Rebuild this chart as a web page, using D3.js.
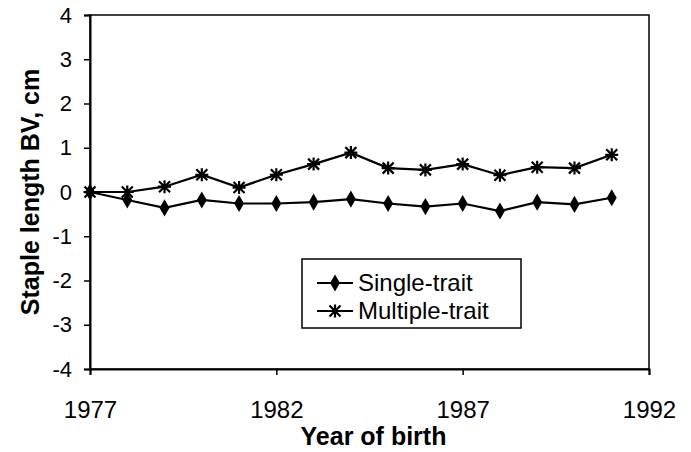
<!DOCTYPE html>
<html><head><meta charset="utf-8">
<script src="https://cdn.jsdelivr.net/npm/d3@7"></script>
<style>body{margin:0;background:#fff}svg{display:block}text{font-family:"Liberation Sans",Arial,sans-serif;fill:#000}</style>
</head><body>
<script>
const years = [1977,1978,1979,1980,1981,1982,1983,1984,1985,1986,1987,1988,1989,1990,1991];
const singleTrait = [0,-0.18,-0.36,-0.18,-0.26,-0.26,-0.23,-0.16,-0.26,-0.33,-0.26,-0.43,-0.23,-0.28,-0.13];
const multipleTrait = [0,0.0,0.12,0.39,0.10,0.39,0.63,0.89,0.54,0.50,0.63,0.38,0.56,0.54,0.84];
const xTicks = [1977,1982,1987,1992];
const yTicks = [-4,-3,-2,-1,0,1,2,3,4];
const seriesNames = ["Single-trait","Multiple-trait"];

const W=691,H=452;
const svg=d3.select("body").append("svg").attr("width",W).attr("height",H);
const m={l:90,r:649,t:15,b:369};
const x=d3.scaleLinear().domain([1977,1992]).range([m.l,m.r]);
const y=d3.scaleLinear().domain([-4,4]).range([m.b,m.t]);

svg.append("rect").attr("x",m.l).attr("y",m.t).attr("width",m.r-m.l).attr("height",m.b-m.t)
  .attr("fill","none").attr("stroke","#000").attr("stroke-width",1.5);

const xa=svg.append("g").attr("transform",`translate(0,${m.b})`)
  .call(d3.axisBottom(x).tickValues(xTicks).tickFormat(d=>String(d)).tickSize(6).tickPadding(26));
const ya=svg.append("g").attr("transform",`translate(${m.l},0)`)
  .call(d3.axisLeft(y).tickValues(yTicks).tickFormat(d=>String(d)).tickSize(6).tickPadding(12));
[xa,ya].forEach(a=>{a.select(".domain").attr("stroke","#000").attr("stroke-width",2);
  a.selectAll(".tick line").attr("stroke","#000").attr("stroke-width",1.5);
  a.selectAll("text").style("font-family",'"Liberation Sans",Arial,sans-serif').attr("fill","#000");});
xa.selectAll("text").style("font-size","24px");
ya.selectAll("text").style("font-size","22px");

svg.append("text").attr("x",(m.l+m.r)/2+4).attr("y",445).attr("text-anchor","middle")
  .style("font-size","25px").style("font-weight","bold").text("Year of birth");
svg.append("text").attr("transform",`translate(39,${(m.t+m.b)/2}) rotate(-90)`).attr("text-anchor","middle")
  .style("font-size","25px").style("font-weight","bold").text("Staple length BV, cm");

const line=d3.line().x((d,i)=>x(years[i])).y(d=>y(d));
const diamond=d3.symbol().type(d3.symbolDiamond).size(85);
function star(g,cx,cy,s){
  const p=`M${cx-s},${cy-s}L${cx+s},${cy+s}M${cx-s},${cy+s}L${cx+s},${cy-s}M${cx},${cy-s-1}L${cx},${cy+s+1}M${cx-s-1},${cy}L${cx+s+1},${cy}`;
  g.append("path").attr("d",p).attr("stroke","#000").attr("stroke-width",2.2).attr("fill","none");
}
svg.append("path").datum(singleTrait).attr("d",line).attr("fill","none").attr("stroke","#000").attr("stroke-width",2.2);
svg.append("path").datum(multipleTrait).attr("d",line).attr("fill","none").attr("stroke","#000").attr("stroke-width",2.2);
svg.append("g").selectAll("path").data(singleTrait).join("path")
  .attr("d",diamond).attr("transform",(d,i)=>`translate(${x(years[i])},${y(d)})`).attr("fill","#000");
const sg=svg.append("g");
multipleTrait.forEach((d,i)=>star(sg,x(years[i]),y(d),5.5));

const lg=svg.append("g");
lg.append("rect").attr("x",302).attr("y",259).attr("width",219).attr("height",69)
  .attr("fill","#fff").attr("stroke","#000").attr("stroke-width",1.5);
const ly=[283,311];
seriesNames.forEach((n,i)=>{
  lg.append("line").attr("x1",317).attr("x2",353).attr("y1",ly[i]).attr("y2",ly[i]).attr("stroke","#000").attr("stroke-width",2);
  if(i===0) lg.append("path").attr("d",diamond).attr("transform",`translate(335,${ly[i]})`).attr("fill","#000");
  else star(lg,335,ly[i],5.5);
  lg.append("text").attr("x",358).attr("y",ly[i]+8).style("font-size","24px").text(n);
});
</script>
</body></html>
